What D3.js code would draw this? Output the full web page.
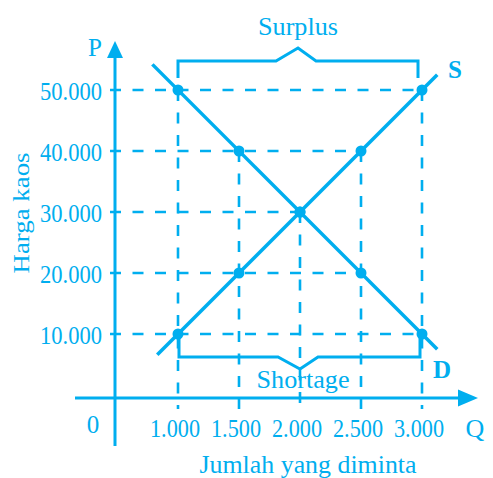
<!DOCTYPE html>
<html><head><meta charset="utf-8">
<script src="https://cdn.jsdelivr.net/npm/d3@7"></script>
<style>html,body{margin:0;padding:0;background:#fff;}svg{display:block;}</style>
</head><body>
<script>
// ---- data ----
const qTicks = [1000, 1500, 2000, 2500, 3000];
const qLabels = ["1.000", "1.500", "2.000", "2.500", "3.000"];
const pTicks = [10000, 20000, 30000, 40000, 50000];
const pLabels = ["10.000", "20.000", "30.000", "40.000", "50.000"];
const supplyQ = [1000, 1500, 2000, 2500, 3000];
const supplyP = [10000, 20000, 30000, 40000, 50000];
const demandQ = [1000, 1500, 2000, 2500, 3000];
const demandP = [50000, 40000, 30000, 20000, 10000];
const supplyLineQ = [830, 3125];
const supplyLineP = [6600, 52500];
const demandLineQ = [790, 3125];
const demandLineP = [54200, 7500];

const C = "#00aeef";
const W = 493, H = 478;
const svg = d3.select("body").append("svg").attr("width", W).attr("height", H);

const x = d3.scaleLinear().domain([1000, 3000]).range([178, 422]);
const y = d3.scaleLinear().domain([10000, 50000]).range([334, 90]);
const axX = 115, axY = 398;
const serif = "'Liberation Serif','Times New Roman',serif";

// guide dashed lines
const pts = supplyQ.map((q, i) => [q, supplyP[i]]).concat(demandQ.map((q, i) => [q, demandP[i]]));
pTicks.forEach(p => {
  const qmax = d3.max(pts.filter(d => d[1] === p), d => d[0]);
  svg.append("line").attr("x1", 110).attr("x2", x(qmax)).attr("y1", y(p)).attr("y2", y(p))
    .attr("stroke", C).attr("stroke-width", 2.6).attr("stroke-dasharray", "11,11.5");
});
qTicks.forEach(q => {
  const pmax = d3.max(pts.filter(d => d[0] === q), d => d[1]);
  svg.append("line").attr("x1", x(q)).attr("x2", x(q)).attr("y1", y(pmax)).attr("y2", 409)
    .attr("stroke", C).attr("stroke-width", 2.6).attr("stroke-dasharray", "11,11.5");
});

// axes
svg.append("line").attr("x1", axX).attr("x2", axX).attr("y1", 446).attr("y2", 55)
  .attr("stroke", C).attr("stroke-width", 3);
svg.append("polygon").attr("points", `${axX},41 ${axX-8},58 ${axX+8},58`).attr("fill", C);
svg.append("line").attr("x1", 75).attr("x2", 462).attr("y1", axY).attr("y2", axY)
  .attr("stroke", C).attr("stroke-width", 3);
svg.append("polygon").attr("points", `478,${axY} 458,${axY-8.5} 458,${axY+8.5}`).attr("fill", C);

// y tick labels
svg.selectAll(".yl").data(pTicks).enter().append("text")
  .attr("x", 102).attr("y", d => y(d) + 10).attr("text-anchor", "end")
  .attr("font-family", serif).attr("font-size", 25).attr("fill", C)
  .attr("textLength", 62).attr("lengthAdjust", "spacingAndGlyphs")
  .text((d, i) => pLabels[i]);
// x tick labels
svg.selectAll(".xl").data(qTicks).enter().append("text")
  .attr("x", d => x(d) - 3).attr("y", 437).attr("text-anchor", "middle")
  .attr("font-family", serif).attr("font-size", 25).attr("fill", C)
  .attr("textLength", 50).attr("lengthAdjust", "spacingAndGlyphs")
  .text((d, i) => qLabels[i]);

// axis letters
svg.append("text").attr("x", 95).attr("y", 56).attr("text-anchor", "middle")
  .attr("font-family", serif).attr("font-size", 25).attr("fill", C).text("P");
svg.append("text").attr("x", 475).attr("y", 437).attr("text-anchor", "middle")
  .attr("font-family", serif).attr("font-size", 26).attr("fill", C).text("Q");
svg.append("text").attr("x", 93).attr("y", 432.5).attr("text-anchor", "middle")
  .attr("font-family", serif).attr("font-size", 25).attr("fill", C).text("0");
svg.append("text").attr("x", 308).attr("y", 473).attr("text-anchor", "middle")
  .attr("font-family", serif).attr("font-size", 26).attr("fill", C)
  .attr("textLength", 217).attr("lengthAdjust", "spacingAndGlyphs").text("Jumlah yang diminta");
svg.append("text").attr("transform", "translate(29,213) rotate(-90)").attr("text-anchor", "middle")
  .attr("font-family", serif).attr("font-size", 23.5).attr("fill", C)
  .attr("textLength", 121).attr("lengthAdjust", "spacingAndGlyphs").text("Harga kaos");

// curves
const line = d3.line().x(d => x(d[0])).y(d => y(d[1]));
svg.append("path").attr("d", line(supplyLineQ.map((q, i) => [q, supplyLineP[i]])))
  .attr("stroke", C).attr("stroke-width", 3.5).attr("fill", "none");
svg.append("path").attr("d", line(demandLineQ.map((q, i) => [q, demandLineP[i]])))
  .attr("stroke", C).attr("stroke-width", 3.5).attr("fill", "none");

// dots
svg.selectAll(".dot").data(pts).enter().append("circle")
  .attr("cx", d => x(d[0])).attr("cy", d => y(d[1])).attr("r", 5.5).attr("fill", C);

// curve labels
svg.append("text").attr("x", 455).attr("y", 78).attr("text-anchor", "middle")
  .attr("font-family", serif).attr("font-weight", "bold").attr("font-size", 25).attr("fill", C).text("S");
svg.append("text").attr("x", 442).attr("y", 378).attr("text-anchor", "middle")
  .attr("font-family", serif).attr("font-weight", "bold").attr("font-size", 25).attr("fill", C).text("D");

// brackets
const xl = x(1000), xr = x(3000), xm = x(2000);
svg.append("path")
  .attr("d", `M${xl},78 L${xl},61 L${xm-24},61 L${xm-2},48 L${xm+16},61 L${xr-4},61 L${xr-4},78`)
  .attr("stroke", C).attr("stroke-width", 3).attr("fill", "none");
svg.append("text").attr("x", 298).attr("y", 35).attr("text-anchor", "middle")
  .attr("font-family", serif).attr("font-size", 26).attr("fill", C)
  .attr("textLength", 80).attr("lengthAdjust", "spacingAndGlyphs").text("Surplus");
svg.append("path")
  .attr("d", `M${xl+1},338 L${xl+1},357 L${xm-22},357 L${xm},369 L${xm+18},357 L${xr-2},357 L${xr-2},338`)
  .attr("stroke", C).attr("stroke-width", 3).attr("fill", "none");
svg.append("text").attr("x", 303).attr("y", 388).attr("text-anchor", "middle")
  .attr("font-family", serif).attr("font-size", 26).attr("fill", C)
  .attr("textLength", 93).attr("lengthAdjust", "spacingAndGlyphs").text("Shortage");
</script>
</body></html>
